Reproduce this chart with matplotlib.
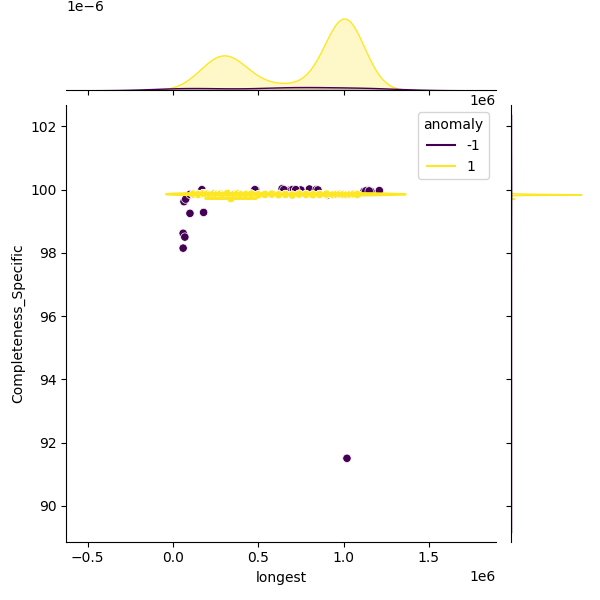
import numpy as np
import pandas as pd
import matplotlib
matplotlib.use('Agg')
import matplotlib.pyplot as plt
import seaborn as sns

# anomaly = -1 points (x in units of 1e6)
neg_x = [0.060, 0.060, 0.070, 0.065, 0.075, 0.100, 0.100, 0.180, 0.170, 0.485,
         0.640, 0.680, 0.700, 0.720, 0.800, 0.840, 0.905, 1.020, 1.120, 1.135,
         1.150, 1.160, 1.210, 0.660, 0.750, 0.650, 0.720, 1.130, 1.150, 0.850,
         0.480]
neg_y = [98.15, 98.62, 98.50, 99.62, 99.70, 99.85, 99.25, 99.28, 100.00, 100.00,
         100.03, 99.98, 100.00, 99.98, 100.02, 100.00, 99.83, 91.50, 99.95, 99.97,
         99.97, 99.95, 99.97, 99.98, 99.99, 100.00, 100.00, 99.96, 99.96, 99.99,
         100.00]

# anomaly = 1 points: distinct positions and how many records sit on each
pos_x = [0.12, 0.15, 0.18, 0.20, 0.22, 0.24, 0.26, 0.28, 0.30, 0.32,
         0.34, 0.36, 0.38, 0.40, 0.43, 0.46, 0.50,
         0.54, 0.58, 0.62, 0.66, 0.70, 0.74, 0.78, 0.82, 0.86, 0.90,
         0.94, 0.96, 0.98, 1.00, 1.02, 1.04, 1.06, 1.08]
pos_y = [99.86, 99.85, 99.88, 99.86, 99.84, 99.87, 99.85, 99.86, 99.84, 99.88,
         99.72, 99.86, 99.87, 99.84, 99.85, 99.86, 99.84,
         99.85, 99.86, 99.84, 99.85, 99.83, 99.86, 99.85, 99.84, 99.85, 99.86,
         99.84, 99.85, 99.86, 99.85, 99.84, 99.85, 99.86, 99.85]
pos_n = [2, 3, 4, 5, 6, 7, 8, 9, 10, 9,
         8, 7, 6, 5, 4, 3, 2,
         2, 2, 2, 2, 2, 2, 2, 2, 3, 4,
         10, 18, 26, 32, 30, 24, 16, 8]

yx = np.repeat(pos_x, pos_n)
yy = np.repeat(pos_y, pos_n)

df = pd.DataFrame({
    'longest': np.concatenate([neg_x, yx]) * 1e6,
    'Completeness_Specific': np.concatenate([neg_y, yy]),
    'anomaly': [-1] * len(neg_x) + [1] * len(yx),
})

g = sns.jointplot(data=df, x='longest', y='Completeness_Specific', hue='anomaly',
                  kind='kde', palette='viridis', height=6,
                  marginal_kws=dict(fill=True))
g.plot_joint(sns.scatterplot, legend=False)

plt.savefig('out.png', dpi=100)
